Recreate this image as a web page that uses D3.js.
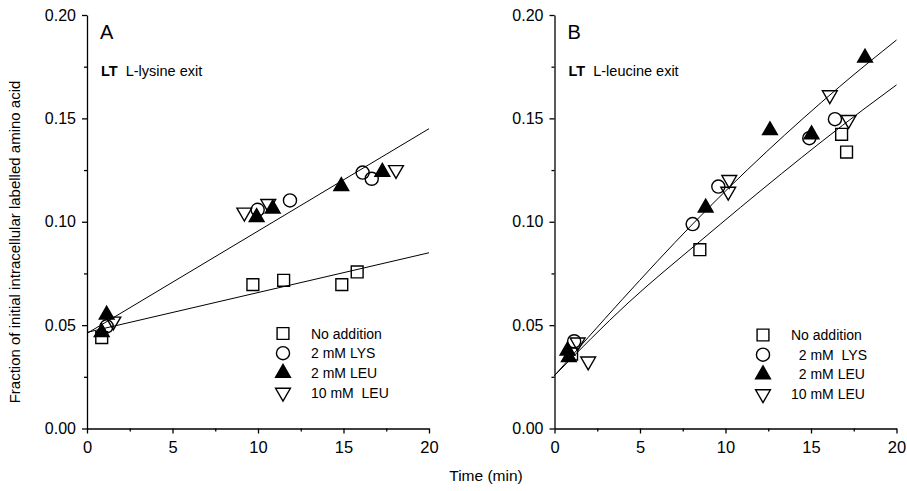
<!DOCTYPE html>
<html>
<head>
<meta charset="utf-8">
<script src="https://cdn.jsdelivr.net/npm/d3@7"></script>
<style>
  body { margin: 0; background: #fff; }
  text { font-family: Arial, "Liberation Sans", Helvetica, sans-serif; fill: #000; }
</style>
</head>
<body>
<div id="chart"></div>
<script>
// values
const xTicks = [0, 5, 10, 15, 20];
const xMinor = [2.5, 7.5, 12.5, 17.5];
const yTicks = [0, 0.05, 0.10, 0.15, 0.20];
const yMinor = [0.025, 0.075, 0.125, 0.175];

const legendLabelsA = ["No addition", "2 mM LYS", "2 mM LEU", "10 mM  LEU"];
const legendLabelsB = ["No addition", "  2 mM  LYS", "  2 mM LEU", "10 mM LEU"];

// panel A (L-lysine exit)
const noneAx = [0.86, 9.7, 11.5, 14.9, 15.8];
const noneAy = [0.0440, 0.0696, 0.0717, 0.0696, 0.0757];
const lysAx = [1.15, 9.98, 11.87, 16.12, 16.65];
const lysAy = [0.0494, 0.1058, 0.1103, 0.1238, 0.1208];
const leu2Ax = [0.86, 1.15, 9.92, 10.86, 14.87, 17.27];
const leu2Ay = [0.0465, 0.0550, 0.1022, 0.1063, 0.1172, 0.1241];
const leu10Ax = [1.54, 9.2, 10.6, 18.07];
const leu10Ay = [0.0518, 0.1045, 0.1087, 0.1251];
const fitA1x = [0, 20];
const fitA1y = [0.046, 0.145];
const fitA2x = [0, 20];
const fitA2y = [0.0465, 0.085];

// panel B (L-leucine exit)
const noneBx = [1.0, 8.5, 16.79, 17.08];
const noneBy = [0.0360, 0.0865, 0.1423, 0.1337];
const lysBx = [1.15, 8.08, 9.58, 14.9, 16.4];
const lysBy = [0.0422, 0.0989, 0.1170, 0.1404, 0.1496];
const leu2Bx = [0.76, 0.84, 8.84, 12.6, 15.03, 18.16];
const leu2By = [0.0376, 0.0344, 0.1068, 0.1442, 0.1422, 0.1793];
const leu10Bx = [1.35, 1.97, 10.16, 10.22, 16.1, 17.2];
const leu10By = [0.0417, 0.0325, 0.1146, 0.1203, 0.1613, 0.1493];
const fitB1x = [0, 3.95, 8.08, 16.68, 20];
const fitB1y = [0.0256, 0.0623, 0.0989, 0.1654, 0.1879];
const fitB2x = [0, 4.3, 8.5, 18.03, 20];
const fitB2y = [0.0256, 0.0607, 0.0905, 0.1541, 0.1662];

const zip = (xs, ys) => xs.map((x, i) => ({x: x, y: ys[i]}));

const width = 907, height = 491;
const svg = d3.select("#chart").append("svg")
    .attr("width", width)
    .attr("height", height);

// symbol shapes
const shapes = [
  {type: d3.symbolSquare, size: 140, fill: "none", rot: 0},
  {type: d3.symbolCircle, size: 135, fill: "none", rot: 0},
  {type: d3.symbolTriangle, size: 95, fill: "#000", rot: 0},
  {type: d3.symbolTriangle, size: 95, fill: "none", rot: 180}
];

function drawPanel(opts) {
  const x = d3.scaleLinear().domain([0, 20]).range([opts.left, opts.left + 342]);
  const y = d3.scaleLinear().domain([0, 0.20]).range([428.5, 15]);
  const g = svg.append("g");

  // axes
  const xAxis = g.append("g")
      .attr("transform", "translate(0," + y(0) + ")")
      .call(d3.axisBottom(x).tickValues(xTicks).tickSize(5).tickSizeOuter(0).tickPadding(8));
  g.append("g")
      .attr("transform", "translate(0," + y(0) + ")")
      .call(d3.axisBottom(x).tickValues(xMinor).tickSize(3).tickFormat(""))
      .select(".domain").remove();
  xAxis.selectAll("text").style("font-size", "16.5px");

  const yAxis = g.append("g")
      .attr("transform", "translate(" + x(0) + ",0)")
      .call(d3.axisLeft(y).tickValues(yTicks).tickSize(5).tickSizeOuter(0)
            .tickPadding(6).tickFormat(d3.format(".2f")));
  g.append("g")
      .attr("transform", "translate(" + x(0) + ",0)")
      .call(d3.axisLeft(y).tickValues(yMinor).tickSize(3).tickFormat(""))
      .select(".domain").remove();
  yAxis.selectAll("text").style("font-size", "16px");
  g.selectAll(".domain, .tick line").attr("stroke", "#000").attr("stroke-width", 1.3);
  g.selectAll(".tick text").attr("fill", "#000").style("font-family", "Arial, 'Liberation Sans', sans-serif");

  // fitted lines
  const line = d3.line().x(d => x(d.x)).y(d => y(d.y)).curve(d3.curveMonotoneX);
  opts.fits.forEach(f => {
    g.append("path").datum(f)
      .attr("d", line)
      .attr("fill", "none")
      .attr("stroke", "#000")
      .attr("stroke-width", 1);
  });

  // points
  opts.series.forEach((s, i) => {
    const sh = shapes[i];
    g.selectAll(null).data(s).enter().append("path")
      .attr("d", d3.symbol().type(sh.type).size(sh.size))
      .attr("transform", d => "translate(" + x(d.x) + "," + y(d.y) + ") rotate(" + sh.rot + ")")
      .attr("fill", sh.fill === "none" ? "#fff" : sh.fill)
      .attr("fill-opacity", sh.fill === "none" ? 0 : 1)
      .attr("stroke", "#000")
      .attr("stroke-width", 1.4);
  });

  // legend
  opts.legend.forEach((lab, i) => {
    const sh = shapes[i];
    const ly = opts.legendY + i * 19.7;
    g.append("path")
      .attr("d", d3.symbol().type(sh.type).size(sh.size))
      .attr("transform", "translate(" + opts.legendX + "," + ly + ") rotate(" + sh.rot + ")")
      .attr("fill", sh.fill)
      .attr("stroke", "#000")
      .attr("stroke-width", 1.4);
    g.append("text")
      .attr("x", opts.legendX + 28)
      .attr("y", ly + 5)
      .style("font-size", "14px")
      .style("white-space", "pre")
      .text(lab);
  });

  // panel letter and caption
  g.append("text").attr("x", opts.left + 13).attr("y", 39)
    .style("font-size", "20px").text(opts.letter);
  const cap = g.append("text").attr("x", opts.left + 14).attr("y", 76)
    .style("font-size", "14.5px").style("white-space", "pre");
  cap.append("tspan").style("font-weight", "bold").text("LT");
  cap.append("tspan").text("  " + opts.caption);
}

drawPanel({
  left: 87, letter: "A", caption: "L-lysine exit",
  fits: [zip(fitA1x, fitA1y), zip(fitA2x, fitA2y)],
  series: [zip(noneAx, noneAy), zip(lysAx, lysAy), zip(leu2Ax, leu2Ay), zip(leu10Ax, leu10Ay)],
  legend: legendLabelsA, legendX: 283, legendY: 333.5
});

drawPanel({
  left: 554.5, letter: "B", caption: "L-leucine exit",
  fits: [zip(fitB1x, fitB1y), zip(fitB2x, fitB2y)],
  series: [zip(noneBx, noneBy), zip(lysBx, lysBy), zip(leu2Bx, leu2By), zip(leu10Bx, leu10By)],
  legend: legendLabelsB, legendX: 763, legendY: 335
});

// shared axis titles
svg.append("text")
    .attr("transform", "translate(20,242) rotate(-90)")
    .attr("text-anchor", "middle")
    .style("font-size", "15px")
    .text("Fraction of initial intracellular labelled amino acid");

svg.append("text")
    .attr("x", 486)
    .attr("y", 481)
    .attr("text-anchor", "middle")
    .style("font-size", "15.5px")
    .text("Time (min)");
</script>
</body>
</html>
